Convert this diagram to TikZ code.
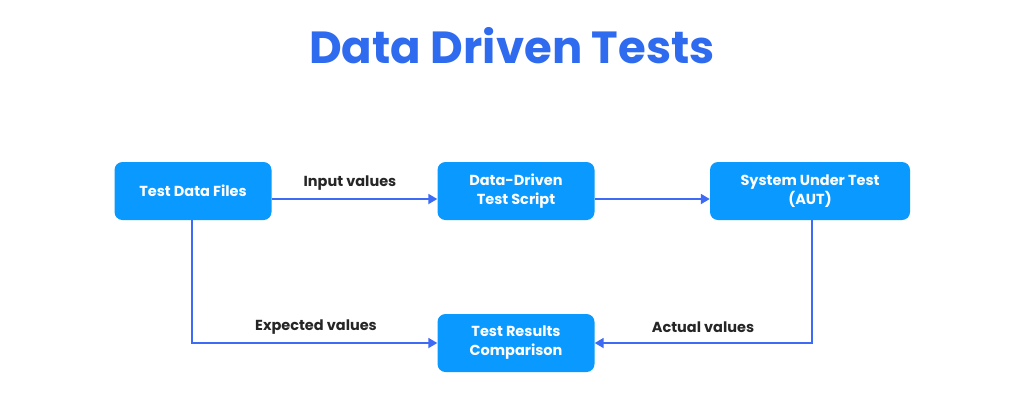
\documentclass[tikz,border=0pt]{standalone}
\usepackage{fontspec}
\setmainfont{Poppins}
\usetikzlibrary{arrows.meta}
\definecolor{boxc}{HTML}{0A99FF}
\definecolor{linec}{HTML}{3D6BF5}
\definecolor{titlec}{HTML}{2F6BEF}
\begin{document}
\begin{tikzpicture}[x=1pt,y=-1pt,
 box/.style={fill=boxc,rounded corners=8pt,text=white,font=\bfseries\fontsize{14.5}{19}\selectfont,align=center,inner sep=0pt},
 conn/.style={draw=linec,line width=1.8pt,-{Triangle[length=9pt,width=10pt]}},
 lab/.style={font=\bfseries\fontsize{14.5}{17}\selectfont,text=black!85}]
\useasboundingbox (0,0) rectangle (1024,408);
\fill[white] (0,0) rectangle (1024,408);
\node[font=\bfseries\fontsize{45}{50}\selectfont,text=titlec] (title) at (512,46) {Data Driven Tests};
\node[box,minimum width=157pt,minimum height=58pt] (tdf) at (193,191) {Test Data Files};
\node[box,minimum width=157pt,minimum height=58pt] (dd) at (516,191) {Data-Driven\\Test Script};
\node[box,minimum width=200pt,minimum height=58pt] (sut) at (810,191) {System Under Test\\(AUT)};
\node[box,minimum width=157pt,minimum height=58pt] (trc) at (516,343) {Test Results\\Comparison};
\draw[conn] (tdf.east |- 0,199) -- (dd.west |- 0,199);
\draw[conn] (dd.east |- 0,199) -- (sut.west |- 0,199);
\draw[conn] (tdf.south -| 192,0) |- (trc.west);
\draw[conn] (sut.south -| 812,0) |- (trc.east);
\node[lab] (l1) at (350,183) {Input values};
\node[lab] (l2) at (316,327) {Expected values};
\node[lab] (l3) at (703,327) {Actual values};
\end{tikzpicture}
\end{document}
